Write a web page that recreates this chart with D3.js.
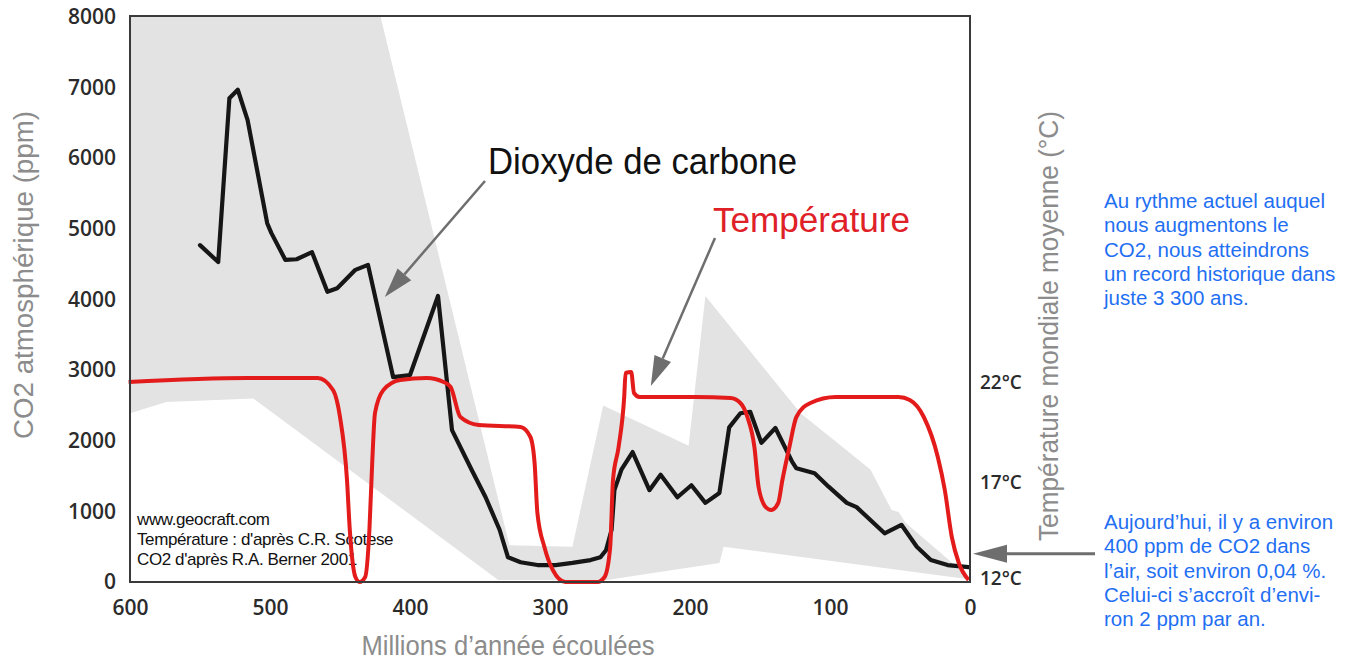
<!DOCTYPE html>
<html><head><meta charset="utf-8">
<script src="https://cdn.jsdelivr.net/npm/d3@7"></script>
<style>
body{margin:0;background:#fff;}
svg{display:block;font-family:"Liberation Sans",Arial,sans-serif;}
</style>
</head><body>
<svg id="c" width="1356" height="662"></svg>
<script>
// ---------- data ----------
const co2Ma  = [550,537,529,523,516,502,499,489,481,470,459,452,439,430,412,400,380,370,356,346,336,330,321,309,296,284,271,264,260,256,254,249,241,229,221,209,199,189,179,172,164,157,149,139,127,124,111,101,88,81,61,49,38,28,16,1];
const co2Ppm = [4770,4530,6850,6970,6540,5080,4940,4560,4570,4670,4110,4160,4420,4490,2900,2930,4050,2150,1590,1200,740,350,280,240,240,270,310,350,450,740,1300,1590,1840,1300,1520,1200,1370,1120,1260,2190,2390,2410,1970,2180,1700,1610,1540,1350,1120,1060,690,810,500,310,240,210];

const tempMa = [601,516,466,455,450,445,443,439,436,432,429,427,425,419,407,388,376,371,364,351,321,314,311,309,304,298,289,266,261,257,255,251,247,246,242,240,236,196,171,164,159,154,151,146,142,137,134,129,124,114,96,51,43,33,23,18,13,8,1];
const tempC  = [22.0,22.2,22.2,21.6,20.25,17.1,14.6,12.25,12.0,12.25,14.6,17.95,20.45,21.6,22.1,22.2,22.0,21.75,20.25,19.85,19.75,19.25,17.95,15.45,13.75,12.6,12.0,12.0,12.25,13.75,17.1,18.75,21.25,22.45,22.5,21.45,21.25,21.25,21.2,20.95,20.25,18.75,16.75,15.75,15.6,15.95,17.1,18.75,20.25,20.95,21.25,21.25,21.1,20.25,18.25,16.6,14.25,12.95,12.1];

// uncertainty envelope (upper edge from old to young, lower edge from young to old)
const bandUpperMa  = [600,421,329,284,262,201,189,121,91,71,56,51,46,1];
const bandUpperPpm = [8000,8000,520,500,2500,1930,4050,2390,1910,1590,1020,990,840,70];
const bandLowerMa  = [1,176,179,236,259,337,512,574,600];
const bandLowerPpm = [40,500,270,100,30,30,2600,2550,2390];

const xTickValues = [600,500,400,300,200,100,0];
const yTickValues = [0,1000,2000,3000,4000,5000,6000,7000,8000];
const tTickValues = [12,17,22];

const co2Label  = "Dioxyde de carbone";
const tempLabel = "Température";
const credits   = ["www.geocraft.com","Température : d'après C.R. Scotese","CO2 d'après R.A. Berner 2001"];
const note1 = ["Au rythme actuel auquel","nous augmentons le","CO2, nous atteindrons","un record historique dans","juste 3 300 ans."];
const note2 = ["Aujourd’hui, il y a environ","400 ppm de CO2 dans","l’air, soit environ 0,04 %.","Celui-ci s’accroît d’envi-","ron 2 ppm par an."];

// ---------- scales ----------
const svg = d3.select("#c");
const x = d3.scaleLinear().domain([600,0]).range([130,970]);
const y = d3.scaleLinear().domain([0,8000]).range([582,17]);
const yT = d3.scaleLinear().domain([12,22]).range([582,382]);

// ---------- envelope ----------
const band = bandUpperMa.map((m,i)=>[x(m),y(bandUpperPpm[i])])
  .concat(bandLowerMa.map((m,i)=>[x(m),y(bandLowerPpm[i])]));
svg.append("path").attr("d", d3.line()(band)+"Z").attr("fill","#e3e3e3");

// ---------- credits ----------
svg.append("g").selectAll("text").data(credits).join("text")
  .attr("x",137).attr("y",(d,i)=>525+i*20)
  .attr("font-size",17).attr("letter-spacing",-0.4).attr("fill","#111").text(d=>d);

// ---------- CO2 line ----------
svg.append("path")
  .attr("d", d3.line().x((d,i)=>x(co2Ma[i])).y((d,i)=>y(co2Ppm[i]))(co2Ma))
  .attr("fill","none").attr("stroke","#161616").attr("stroke-width",4.2)
  .attr("stroke-linejoin","round").attr("stroke-linecap","round");

// ---------- temperature line ----------
svg.append("path")
  .attr("d", d3.line().curve(d3.curveMonotoneX).x((d,i)=>x(tempMa[i])).y((d,i)=>yT(tempC[i]))(tempMa))
  .attr("fill","none").attr("stroke","#e41b1b").attr("stroke-width",4)
  .attr("stroke-linejoin","round");

// ---------- frame & axes ----------
svg.append("rect").attr("x",x(600)).attr("y",y(8000)-1).attr("width",x(0)-x(600)).attr("height",y(0)-y(8000)+1)
  .attr("fill","none").attr("stroke","#3a3a3a").attr("stroke-width",2);

const tickFont = g => g.call(s=>s.select(".domain").remove())
  .selectAll("text").attr("font-family","'Open Sans',sans-serif").attr("font-weight",600)
  .attr("fill","#2b2b2b");

svg.append("g").attr("transform",`translate(${x(600)},0)`)
  .call(d3.axisLeft(y).tickValues(yTickValues).tickSize(0).tickPadding(14).tickFormat(d3.format("d")))
  .call(tickFont).selectAll("text").attr("font-size",21);

svg.append("g").attr("transform",`translate(0,${y(0)})`)
  .call(d3.axisBottom(x).tickValues(xTickValues).tickSize(0).tickPadding(18).tickFormat(d3.format("d")))
  .call(tickFont).selectAll("text").attr("font-size",21);

const rAxis = svg.append("g").attr("transform",`translate(${x(0)},0)`)
  .call(d3.axisRight(yT).tickValues(tTickValues).tickSize(0).tickPadding(10).tickFormat(d=>d+"°C"))
  .call(tickFont);
rAxis.selectAll("text").attr("font-size",19);
rAxis.selectAll(".tick").filter(d=>d===12).select("text").attr("y",-4);

// ---------- axis titles ----------
svg.append("text").attr("transform","translate(33,275) rotate(-90)")
  .attr("text-anchor","middle").attr("font-size",27).attr("fill","#8c8c8c")
  .attr("textLength",328).attr("lengthAdjust","spacingAndGlyphs")
  .text("CO2 atmosphérique (ppm)");

svg.append("text").attr("transform","translate(1058,326) rotate(-90)")
  .attr("text-anchor","middle").attr("font-size",27).attr("fill","#8c8c8c")
  .attr("textLength",430).attr("lengthAdjust","spacingAndGlyphs")
  .text("Température mondiale moyenne (°C)");

svg.append("text").attr("x",508).attr("y",655)
  .attr("text-anchor","middle").attr("font-size",27).attr("fill","#8c8c8c")
  .attr("textLength",293).attr("lengthAdjust","spacingAndGlyphs")
  .text("Millions d’année écoulées");

// ---------- series labels ----------
svg.append("text").attr("x",488).attr("y",174).attr("font-size",37).attr("fill","#111")
  .attr("textLength",309).attr("lengthAdjust","spacingAndGlyphs").text(co2Label);
svg.append("text").attr("x",713).attr("y",232).attr("font-size",35).attr("fill","#e02027")
  .attr("textLength",197).attr("lengthAdjust","spacingAndGlyphs").text(tempLabel);

// ---------- arrows ----------
function arrow(x1,y1,x2,y2,L,W,sw){
  const dx=x1-x2, dy=y1-y2, len=Math.hypot(dx,dy), ux=dx/len, uy=dy/len;
  const bx=x2+ux*L, by=y2+uy*L, nx=-uy, ny=ux;
  svg.append("line").attr("x1",x1).attr("y1",y1).attr("x2",bx).attr("y2",by)
    .attr("stroke","#6e6e6e").attr("stroke-width",sw);
  svg.append("path").attr("d",`M${x2},${y2}L${bx+nx*W},${by+ny*W}L${bx-nx*W},${by-ny*W}Z`)
    .attr("fill","#6e6e6e");
}
arrow(485,181, x(418), y(4035), 30, 9, 2.5);
arrow(715,238, x(228), y(2775), 30, 9, 2.5);
arrow(1095,y(400), x(0)+3, y(400), 34, 9, 3);

// ---------- notes ----------
svg.append("g").selectAll("text").data(note1).join("text")
  .attr("x",1104).attr("y",(d,i)=>208+i*24.3).attr("font-size",20.5).attr("fill","#1f6ff2").text(d=>d);
svg.append("g").selectAll("text").data(note2).join("text")
  .attr("x",1104).attr("y",(d,i)=>529+i*24.3).attr("font-size",20.5).attr("fill","#1f6ff2").text(d=>d);
</script>
</body></html>
